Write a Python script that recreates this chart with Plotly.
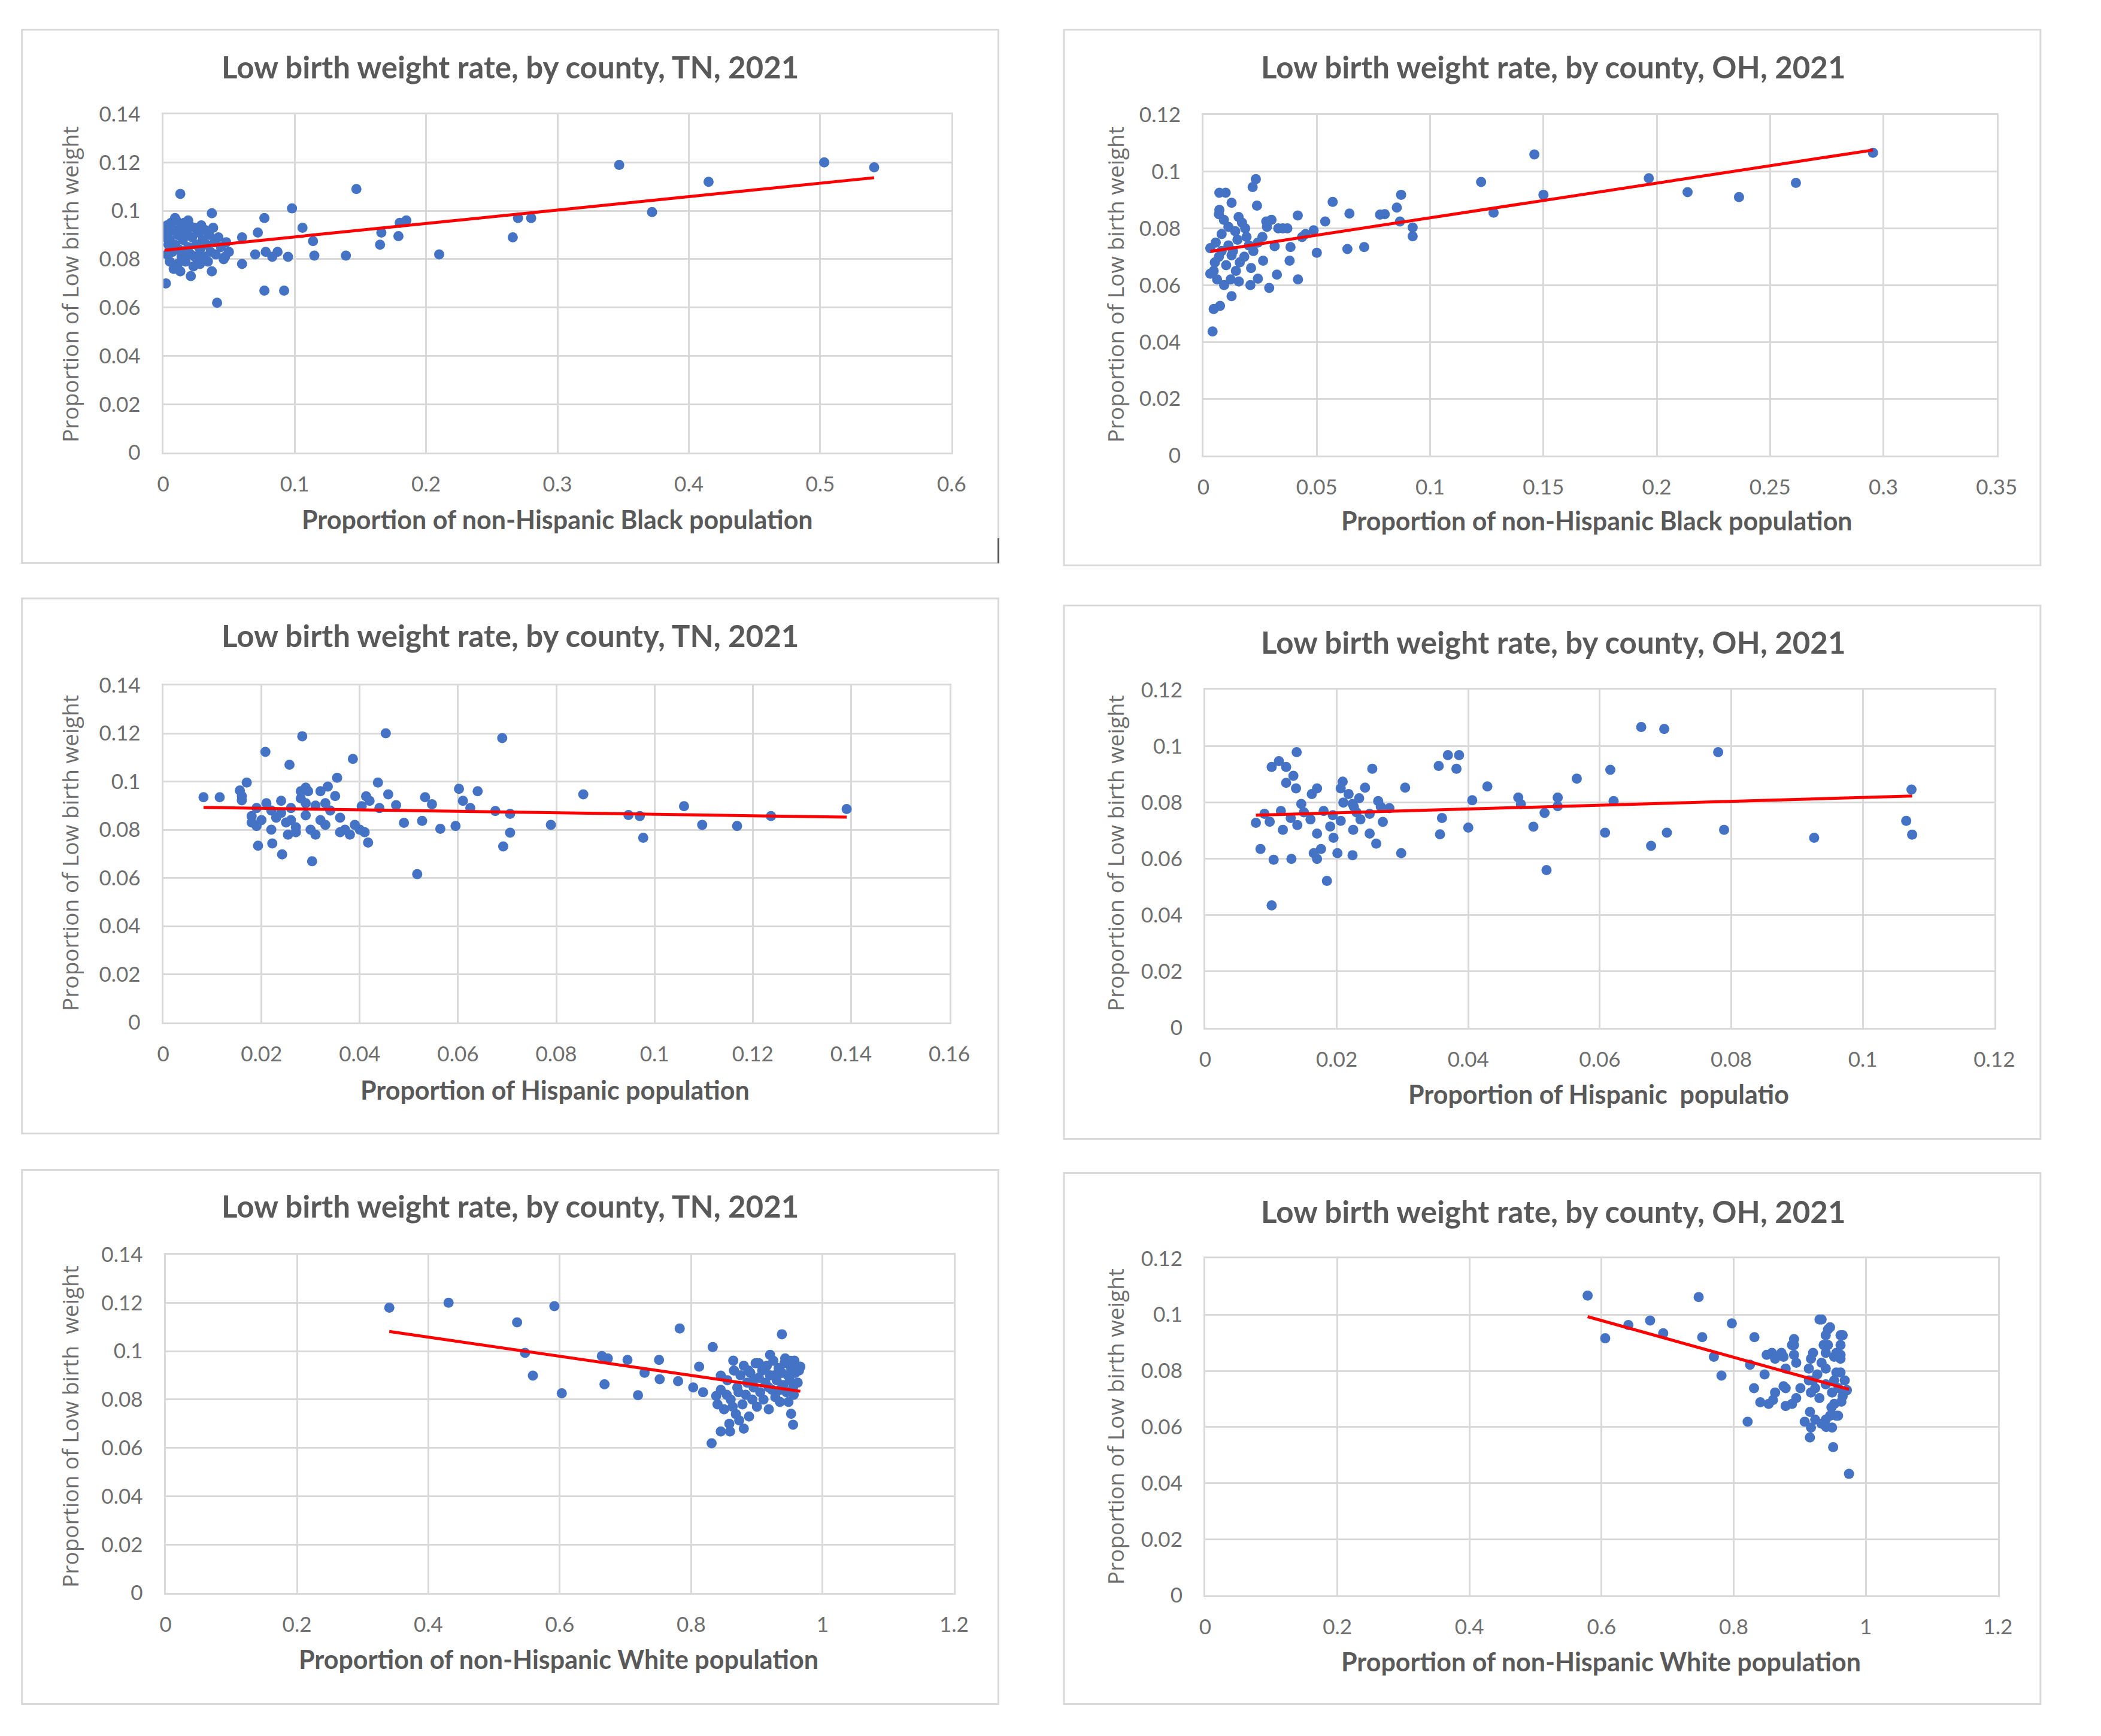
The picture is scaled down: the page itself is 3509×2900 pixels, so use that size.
import numpy as np
import plotly.graph_objects as go

# ---- data: TN, proportion of non-Hispanic Black population vs low birth weight
tn_black_x = [0.013, 0.037, 0.098, 0.147, 0.077, 0.106, 0.114, 0.115, 0.139, 0.185,
              0.179, 0.166, 0.165, 0.210, 0.077, 0.092, 0.041, 0.002, 0.021, 0.037,
              0.060, 0.095, 0.072, 0.060, 0.047, 0.083, 0.070, 0.078, 0.087, 0.347,
              0.372, 0.415, 0.503, 0.541, 0.266, 0.270, 0.280, 0.180,
              0.003, 0.004, 0.005, 0.006, 0.007, 0.008, 0.009, 0.010, 0.011, 0.012,
              0.013, 0.014, 0.015, 0.016, 0.017, 0.018, 0.019, 0.020, 0.021, 0.022,
              0.023, 0.024, 0.025, 0.026, 0.027, 0.028, 0.029, 0.030, 0.031, 0.032,
              0.033, 0.034, 0.035, 0.036, 0.038, 0.039, 0.040, 0.042, 0.044, 0.046,
              0.048, 0.050, 0.003, 0.005, 0.008, 0.011, 0.013, 0.016, 0.009, 0.019,
              0.024, 0.028, 0.004, 0.001, 0.002]
tn_black_y = [0.107, 0.099, 0.101, 0.109, 0.097, 0.093, 0.0875, 0.0815, 0.0815, 0.096,
              0.0895, 0.091, 0.086, 0.082, 0.067, 0.067, 0.062, 0.070, 0.073, 0.075,
              0.078, 0.081, 0.091, 0.089, 0.081, 0.081, 0.082, 0.083, 0.083, 0.119,
              0.0995, 0.112, 0.120, 0.118, 0.089, 0.097, 0.097, 0.095,
              0.094, 0.091, 0.088, 0.095, 0.083, 0.092, 0.086, 0.096, 0.090, 0.084,
              0.093, 0.081, 0.088, 0.095, 0.079, 0.091, 0.085, 0.094, 0.082, 0.089,
              0.077, 0.093, 0.086, 0.080, 0.091, 0.084, 0.094, 0.088, 0.081, 0.092,
              0.086, 0.079, 0.090, 0.083, 0.093, 0.087, 0.082, 0.089, 0.085, 0.080,
              0.087, 0.083, 0.082, 0.079, 0.076, 0.078, 0.075, 0.083, 0.097, 0.096,
              0.081, 0.078, 0.086, 0.093, 0.089]

# ---- data: OH, proportion of non-Hispanic Black population
oh_black_x = [0.1225, 0.146, 0.150, 0.128, 0.0872, 0.0853, 0.0867, 0.0923, 0.0923, 0.0779,
              0.0800, 0.0644, 0.057, 0.0537, 0.0486, 0.0435, 0.050, 0.0635, 0.0709, 0.0416,
              0.037, 0.035, 0.0384, 0.038, 0.0417, 0.0324, 0.029, 0.024, 0.0207, 0.0156,
              0.0124, 0.0073, 0.0045, 0.004, 0.0263, 0.0314, 0.0277, 0.0280, 0.0231, 0.0217,
              0.0236, 0.0124, 0.007, 0.0098, 0.0068, 0.0070, 0.0155, 0.0184, 0.0110, 0.0054,
              0.0110, 0.0150, 0.020, 0.024, 0.0068, 0.0124, 0.018, 0.0045, 0.0143, 0.0091,
              0.1965, 0.2136, 0.2363, 0.2614, 0.2954,
              0.003, 0.005, 0.008, 0.009, 0.013, 0.016, 0.019, 0.021, 0.010, 0.006,
              0.017, 0.014, 0.022, 0.026, 0.003, 0.012, 0.008, 0.030, 0.033, 0.045]
oh_black_y = [0.0963, 0.106, 0.0918, 0.0855, 0.0918, 0.0873, 0.0824, 0.0803, 0.0772, 0.0848,
              0.0850, 0.0852, 0.0893, 0.0824, 0.0793, 0.0769, 0.0714, 0.0727, 0.0734, 0.0845,
              0.080, 0.080, 0.0734, 0.0686, 0.062, 0.0637, 0.059, 0.0623, 0.060, 0.0613,
              0.0561, 0.0527, 0.0516, 0.0437, 0.0686, 0.0737, 0.0824, 0.0805, 0.0973, 0.0945,
              0.088, 0.089, 0.0925, 0.0925, 0.085, 0.0865, 0.084, 0.080, 0.0805, 0.075,
              0.074, 0.076, 0.074, 0.075, 0.070, 0.0705, 0.070, 0.065, 0.065, 0.060,
              0.0976, 0.0927, 0.091, 0.096, 0.1066,
              0.073, 0.068, 0.078, 0.083, 0.072, 0.068, 0.077, 0.066, 0.067, 0.062,
              0.082, 0.079, 0.072, 0.077, 0.064, 0.062, 0.072, 0.083, 0.080, 0.078]

# ---- data: TN, proportion of Hispanic population
tn_hisp_x = [0.0082, 0.0115, 0.0156, 0.0170, 0.0160, 0.0180, 0.0190, 0.0208, 0.0283, 0.0257,
             0.0386, 0.0453, 0.069, 0.0354, 0.0335, 0.029, 0.0295, 0.0437, 0.0458, 0.0474,
             0.0413, 0.0404, 0.0533, 0.0547, 0.0602, 0.064, 0.061, 0.0625, 0.0676, 0.0706,
             0.0706, 0.0692, 0.0855, 0.0789, 0.0947, 0.0970, 0.0977, 0.106, 0.1097, 0.1168,
             0.1237, 0.1391, 0.049, 0.0527, 0.0564, 0.0595, 0.0517, 0.0303, 0.0242, 0.0193,
             0.0222, 0.0254, 0.0417, 0.038, 0.037, 0.039,
             0.021, 0.022, 0.023, 0.024, 0.025, 0.026, 0.027, 0.028, 0.029, 0.030,
             0.031, 0.032, 0.033, 0.034, 0.022, 0.027, 0.031, 0.024, 0.029, 0.026,
             0.033, 0.020, 0.036, 0.040, 0.041, 0.044, 0.019, 0.018, 0.035, 0.032,
             0.028, 0.042, 0.016, 0.036]
tn_hisp_y = [0.0935, 0.0935, 0.0963, 0.0996, 0.0922, 0.0857, 0.0816, 0.1123, 0.1188, 0.107,
             0.1094, 0.120, 0.118, 0.1016, 0.0979, 0.0975, 0.0960, 0.0996, 0.0947, 0.0902,
             0.0939, 0.0898, 0.0935, 0.0906, 0.097, 0.096, 0.092, 0.089, 0.0878, 0.0866,
             0.0788, 0.0731, 0.0947, 0.082, 0.0861, 0.0857, 0.0767, 0.0898, 0.082, 0.0816,
             0.0857, 0.0886, 0.0829, 0.0837, 0.0804, 0.0816, 0.0616, 0.0669, 0.0698, 0.0734,
             0.0743, 0.078, 0.0747, 0.078, 0.080, 0.082,
             0.091, 0.088, 0.085, 0.092, 0.083, 0.089, 0.081, 0.093, 0.086, 0.080,
             0.090, 0.084, 0.082, 0.088, 0.080, 0.079, 0.078, 0.087, 0.091, 0.084,
             0.091, 0.084, 0.085, 0.080, 0.079, 0.089, 0.089, 0.083, 0.094, 0.096,
             0.096, 0.092, 0.094, 0.079]

# ---- data: OH, proportion of Hispanic population
oh_hisp_x = [0.0663, 0.0698, 0.078, 0.0139, 0.0112, 0.0101, 0.0123, 0.0134, 0.0254, 0.0209,
             0.0369, 0.0386, 0.0355, 0.0382, 0.0243, 0.0304, 0.0429, 0.0406, 0.0476, 0.048,
             0.0536, 0.0536, 0.0565, 0.0616, 0.0621, 0.0516, 0.0499, 0.0519, 0.0608, 0.0702,
             0.0678, 0.0789, 0.0926, 0.1074, 0.1066, 0.1075, 0.040, 0.0357, 0.036, 0.0298,
             0.027, 0.025, 0.026, 0.0263, 0.0224, 0.023, 0.0236, 0.0225, 0.0195, 0.0201,
             0.0224, 0.0185, 0.0165, 0.0176, 0.0170, 0.0104, 0.0131, 0.0101, 0.0084, 0.0077,
             0.0098, 0.0118, 0.0123, 0.0138, 0.0162, 0.0170, 0.0206, 0.0218, 0.0146, 0.0150,
             0.0194, 0.0206, 0.0190, 0.0234, 0.0226, 0.0267, 0.0130, 0.0160, 0.0180, 0.0210,
             0.0115, 0.0090, 0.0250, 0.0280, 0.0170, 0.0140]
oh_hisp_y = [0.1068, 0.1061, 0.0979, 0.0979, 0.0947, 0.0926, 0.0926, 0.0895, 0.092, 0.0874,
             0.0968, 0.0968, 0.0930, 0.092, 0.0853, 0.0853, 0.0857, 0.0808, 0.0818, 0.0794,
             0.0818, 0.0787, 0.0885, 0.0916, 0.0805, 0.0763, 0.0714, 0.056, 0.0693, 0.0693,
             0.0646, 0.0703, 0.0675, 0.0846, 0.0735, 0.0686, 0.0711, 0.0687, 0.0745, 0.062,
             0.0731, 0.069, 0.0654, 0.0805, 0.0795, 0.0765, 0.074, 0.0703, 0.0675, 0.062,
             0.0613, 0.0522, 0.062, 0.0635, 0.060, 0.0597, 0.060, 0.0435, 0.0635, 0.0728,
             0.0732, 0.0703, 0.087, 0.085, 0.083, 0.085, 0.085, 0.083, 0.0795, 0.0765,
             0.0755, 0.0735, 0.0715, 0.0815, 0.0785, 0.0785, 0.0745, 0.0740, 0.0770, 0.0800,
             0.0770, 0.0760, 0.0760, 0.0780, 0.0690, 0.0720]

# ---- data: TN, proportion of non-Hispanic White population
tn_white_x = [0.3405, 0.4307, 0.5917, 0.535, 0.7825, 0.938, 0.8327, 0.547, 0.559, 0.603,
              0.668, 0.719, 0.664, 0.673, 0.703, 0.751, 0.729, 0.752, 0.780, 0.812,
              0.845, 0.803, 0.818, 0.838, 0.854, 0.831, 0.845, 0.859, 0.873, 0.952,
              0.955, 0.864, 0.920, 0.957, 0.966,
              0.840, 0.845, 0.850, 0.855, 0.860, 0.865, 0.868, 0.870, 0.875, 0.878,
              0.880, 0.883, 0.885, 0.888, 0.890, 0.893, 0.895, 0.898, 0.900, 0.903,
              0.905, 0.908, 0.910, 0.913, 0.915, 0.918, 0.920, 0.923, 0.925, 0.928,
              0.930, 0.933, 0.935, 0.938, 0.940, 0.942, 0.945, 0.947, 0.950, 0.952,
              0.955, 0.958, 0.960, 0.962, 0.964, 0.858, 0.880, 0.863, 0.872, 0.948,
              0.956, 0.935, 0.895, 0.912, 0.927, 0.943, 0.903, 0.918, 0.887, 0.952]
tn_white_y = [0.118, 0.120, 0.1186, 0.1119, 0.1094, 0.107, 0.1017, 0.0993, 0.0899, 0.0826,
              0.0863, 0.0818, 0.098, 0.097, 0.0964, 0.0964, 0.0911, 0.0884, 0.0876, 0.0936,
              0.0899, 0.085, 0.083, 0.0815, 0.082, 0.0619, 0.0668, 0.0668, 0.0714, 0.0741,
              0.0696, 0.0961, 0.0985, 0.0961, 0.0936,
              0.078, 0.084, 0.076, 0.088, 0.080, 0.092, 0.074, 0.085, 0.090, 0.078,
              0.094, 0.082, 0.087, 0.073, 0.091, 0.080, 0.085, 0.095, 0.077, 0.089,
              0.083, 0.092, 0.080, 0.087, 0.094, 0.076, 0.090, 0.084, 0.096, 0.081,
              0.088, 0.093, 0.079, 0.091, 0.086, 0.095, 0.083, 0.090, 0.088, 0.093,
              0.085, 0.091, 0.094, 0.087, 0.092, 0.070, 0.068, 0.077, 0.083, 0.079,
              0.082, 0.084, 0.088, 0.093, 0.090, 0.097, 0.095, 0.085, 0.092, 0.096]

# ---- data: OH, proportion of non-Hispanic White population
oh_white_x = [0.5789, 0.747, 0.6055, 0.6406, 0.6735, 0.6933, 0.7524, 0.7972, 0.8314, 0.770,
              0.7815, 0.8247, 0.8308, 0.8211, 0.8468, 0.8579, 0.8723, 0.8914, 0.930, 0.9427,
              0.9618, 0.9427, 0.9746, 0.9506, 0.9154,
              0.9075, 0.9331, 0.949, 0.9155, 0.9459, 0.8403, 0.8595, 0.8787, 0.8947, 0.8627,
              0.8755, 0.9202, 0.9394, 0.9586, 0.965, 0.917, 0.9298, 0.9522, 0.8787, 0.8947,
              0.917, 0.9331, 0.9522, 0.9618, 0.9138, 0.9394, 0.9554, 0.8627, 0.8755, 0.8914,
              0.9714, 0.9394, 0.9618, 0.9138, 0.9234, 0.949, 0.917, 0.9234, 0.9394, 0.9554,
              0.901, 0.8787, 0.853, 0.8883, 0.9522, 0.9682, 0.9202, 0.9394, 0.9554, 0.8914,
              0.85, 0.9331, 0.9459, 0.965, 0.9618, 0.9362, 0.8883, 0.9266, 0.9618,
              0.958, 0.948, 0.963, 0.940]
oh_white_y = [0.1068, 0.1063, 0.0916, 0.0963, 0.0979, 0.0934, 0.092, 0.0969, 0.092, 0.085,
              0.0783, 0.0822, 0.0738, 0.0619, 0.0787, 0.0864, 0.0864, 0.0892, 0.0983, 0.0947,
              0.0927, 0.0892, 0.0433, 0.0528, 0.0563,
              0.0619, 0.0612, 0.0598, 0.0654, 0.064, 0.0688, 0.0696, 0.0675, 0.0703, 0.0723,
              0.0745, 0.0766, 0.0752, 0.0738, 0.0710, 0.0723, 0.0703, 0.0682, 0.0808, 0.0829,
              0.0843, 0.0829, 0.085, 0.0843, 0.0808, 0.0808, 0.0794, 0.0843, 0.085, 0.0913,
              0.0731, 0.0927, 0.0857, 0.0766, 0.0738, 0.0723, 0.0598, 0.0626, 0.0626, 0.064,
              0.0738, 0.0738, 0.0682, 0.0682, 0.0766, 0.0766, 0.0864, 0.0864, 0.0864, 0.0857,
              0.0857, 0.0983, 0.0955, 0.0927, 0.0892, 0.0892, 0.0892, 0.0787, 0.0794,
              0.064, 0.067, 0.069, 0.060]

TITLE_TN = "Low birth weight rate, by county, TN, 2021"
TITLE_OH = "Low birth weight rate, by county, OH, 2021"

W, H = 3509, 2900
GRID = "#D9D9D9"
TXT = "#595959"

# one dict per panel: data, texts, axis ranges, and pixel boxes (left, top, right, bottom)
panels = [
    dict(x=tn_black_x, y=tn_black_y, title=TITLE_TN,
         xt="Proportion of non-Hispanic Black population", yt="Proportion of Low birth weight",
         xr=[0, 0.6], xd=0.1, yr=[0, 0.14],
         plot=(266, 170, 1600, 744), box=(27, 27, 1679, 931),
         tpos=(853, 90), xtpos=(933, 857), ytpos=(108, 459)),
    dict(x=oh_black_x, y=oh_black_y, title=TITLE_OH,
         xt="Proportion of non-Hispanic Black population", yt="Proportion of Low birth weight",
         xr=[0, 0.35], xd=0.05, yr=[0, 0.12],
         plot=(2026, 171, 3368, 749), box=(1790, 27, 3442, 935),
         tpos=(2618, 90), xtpos=(2692, 859), ytpos=(1876, 459)),
    dict(x=tn_hisp_x, y=tn_hisp_y, title=TITLE_TN,
         xt="Proportion of Hispanic population", yt="Proportion of Low birth weight",
         xr=[0, 0.16], xd=0.02, yr=[0, 0.14],
         plot=(266, 1138, 1596, 1710), box=(27, 991, 1679, 1898),
         tpos=(853, 1054), xtpos=(929, 1824), ytpos=(108, 1423)),
    dict(x=oh_hisp_x, y=oh_hisp_y, title=TITLE_OH,
         xt="Proportion of Hispanic\u00a0 populatio", yt="Proportion of Low birth weight",
         xr=[0, 0.12], xd=0.02, yr=[0, 0.12],
         plot=(2029, 1146, 3364, 1719), box=(1790, 1003, 3442, 1907),
         tpos=(2618, 1065), xtpos=(2695, 1831), ytpos=(1876, 1423)),
    dict(x=tn_white_x, y=tn_white_y, title=TITLE_TN,
         xt="Proportion of non-Hispanic White population", yt="Proportion of Low birth\u00a0 weight",
         xr=[0, 1.2], xd=0.2, yr=[0, 0.14],
         plot=(270, 2103, 1604, 2677), box=(27, 1960, 1679, 2865),
         tpos=(853, 2021), xtpos=(935, 2789), ytpos=(108, 2395)),
    dict(x=oh_white_x, y=oh_white_y, title=TITLE_OH,
         xt="Proportion of non-Hispanic White population", yt="Proportion of Low birth weight",
         xr=[0, 1.2], xd=0.2, yr=[0, 0.12],
         plot=(2029, 2110, 3370, 2681), box=(1790, 1965, 3442, 2865),
         tpos=(2618, 2030), xtpos=(2699, 2793), ytpos=(1876, 2395)),
]

fig = go.Figure()
shapes = []
annotations = []

for i, p in enumerate(panels, start=1):
    sfx = "" if i == 1 else str(i)
    xa, ya = "x" + sfx, "y" + sfx
    l, t, r, b = p["plot"]

    fig.add_trace(go.Scatter(
        x=p["x"], y=p["y"], mode="markers", xaxis=xa, yaxis=ya, showlegend=False,
        marker=dict(color="#4472C4", size=17, line=dict(width=0))))

    # linear trendline fitted to the points
    xs = np.array(p["x"])
    slope, icpt = np.polyfit(xs, np.array(p["y"]), 1)
    xl = np.array([xs.min(), xs.max()])
    fig.add_trace(go.Scatter(
        x=xl, y=icpt + slope * xl, mode="lines", xaxis=xa, yaxis=ya, showlegend=False,
        line=dict(color="#FF0000", width=5)))

    axis_common = dict(showgrid=True, gridcolor=GRID, gridwidth=3,
                       showline=True, linecolor=GRID, linewidth=3, mirror=True,
                       zeroline=False, ticks="outside", tickcolor="rgba(0,0,0,0)",
                       tickfont=dict(family="Lato", size=35, color="#6E6E6E"))
    fig.update_layout(**{
        "xaxis" + sfx: dict(axis_common, domain=[l / W, r / W], range=p["xr"],
                            dtick=p["xd"], tick0=0, ticklen=20, anchor=ya),
        "yaxis" + sfx: dict(axis_common, domain=[1 - b / H, 1 - t / H], range=p["yr"],
                            dtick=0.02, tick0=0, ticklen=28, anchor=xa),
    })

    bl, bt, br, bb = p["box"]
    shapes.append(dict(type="rect", xref="paper", yref="paper",
                       x0=bl / W, x1=br / W, y0=1 - bb / H, y1=1 - bt / H,
                       line=dict(color=GRID, width=3), layer="below"))

    annotations.append(dict(text="<b>%s</b>" % p["title"], xref="paper", yref="paper",
                            x=p["tpos"][0] / W, y=1 - p["tpos"][1] / H, showarrow=False,
                            xanchor="center", yanchor="middle",
                            font=dict(family="Lato", size=51, color=TXT)))
    annotations.append(dict(text="<b>%s</b>" % p["xt"], xref="paper", yref="paper",
                            x=p["xtpos"][0] / W, y=1 - p["xtpos"][1] / H, showarrow=False,
                            xanchor="center", yanchor="middle",
                            font=dict(family="Lato", size=43, color=TXT)))
    annotations.append(dict(text=p["yt"], xref="paper", yref="paper", textangle=-90,
                            x=p["ytpos"][0] / W, y=1 - p["ytpos"][1] / H, showarrow=False,
                            xanchor="center", yanchor="middle",
                            font=dict(family="Open Sans", size=37, color="#6E6E6E")))

# small stray dark tick near the first panel's lower-right corner
shapes.append(dict(type="line", xref="paper", yref="paper",
                   x0=1679 / W, x1=1679 / W, y0=1 - 931 / H, y1=1 - 889 / H,
                   line=dict(color="#555555", width=3)))

fig.update_layout(width=W, height=H, margin=dict(l=0, r=0, t=0, b=0),
                  paper_bgcolor="white", plot_bgcolor="white",
                  shapes=shapes, annotations=annotations)

fig.write_html("out.html", config={"displayModeBar": False},
               post_script="document.body.style.margin='0px';"
                           "document.body.style.overflow='hidden';")
